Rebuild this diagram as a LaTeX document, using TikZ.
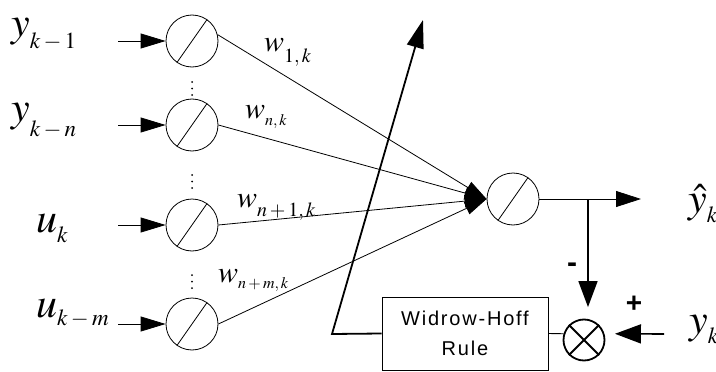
\documentclass[tikz,border=0pt]{standalone}
\usepackage{mathptmx}
\usepackage{fontspec}
\newfontfamily\sansf[LetterSpace=9]{Liberation Sans}
\newfontfamily\sansplain{Liberation Sans}
\usetikzlibrary{arrows.meta}
\newcommand\inlab[3]{{\fontsize{42}{42}\selectfont$#1$}\raisebox{-#3}{\fontsize{23}{23}\selectfont$#2$}}
\newcommand\wlab[3]{{\fontsize{30}{30}\selectfont$w$}\raisebox{-#2}{\fontsize{#3}{#3}\selectfont$#1$}}
\begin{document}
\begin{tikzpicture}[x=1pt,y=-1pt,
  neuron/.style={circle,draw,line width=0.8pt,minimum size=52pt,inner sep=0pt},
  slash/.style={line width=0.8pt},
  inarr/.style={line width=0.8pt,-{Triangle[length=25pt,width=15pt]}},
  warr/.style={line width=0.8pt,-{Triangle[length=22pt,width=13pt]}},
  outarr/.style={line width=0.8pt,-{Triangle[length=25pt,width=16pt]}},
  fbarr/.style={line width=1.6pt,-{Triangle[length=26pt,width=19pt]}},
  thickarr/.style={line width=1.8pt,-{Triangle[length=28pt,width=17pt]}},
  lab/.style={anchor=base west,inner sep=0pt},
  vdot/.style={circle,fill,inner sep=0pt,minimum size=2pt},
]
\clip (0,0) rectangle (716,372);
% input neurons
\node[neuron] (n1) at (192,41) {};
\node[neuron] (n2) at (192,125) {};
\node[neuron] (n3) at (192,225) {};
\node[neuron] (n4) at (192,324) {};
\foreach \n in {n1,n2,n3,n4} \draw[slash] (\n.235) -- (\n.55);
% vertical dots
\foreach \y [count=\i] in {82,175,275} {
  \node[vdot] (da\i) at (192,\y) {};
  \node[vdot] (db\i) at (192,\y+6.5) {};
  \node[vdot] (dc\i) at (192,\y+13) {};
}
% input labels
\node[lab] (ly1) at (11,37) {\inlab{y}{k-1}{12pt}};
\node[lab] (lyn) at (11,121) {\inlab{y}{k-n}{15pt}};
\node[lab] (lu) at (36,232) {\inlab{u}{k}{10pt}};
\node[lab] (lum) at (36,317) {\inlab{u}{k-m}{8pt}};
% input arrows
\coordinate (s1) at (118,41);
\coordinate (s2) at (118,125);
\coordinate (s3) at (118,225);
\coordinate (s4) at (118,324);
\draw[inarr] (s1) -- (n1);
\draw[inarr] (s2) -- (n2);
\draw[inarr] (s3) -- (n3);
\draw[inarr] (s4) -- (n4);
% output neuron
\node[neuron] (out) at (513,199) {};
\draw[slash] (out.235) -- (out.55);
% weighted connections
\draw[warr] (n1.14) -- (out.west);
\draw[warr] (n2.east) -- (out.west);
\draw[warr] (n3.east) -- (out.west);
\draw[warr] (n4.east) -- (out.west);
% weight labels
\node[lab] (w1) at (264,52) {\wlab{1,k}{10pt}{20}};
\node[lab] (w2) at (245,118) {\wlab{n,k}{7pt}{16}};
\node[lab] (w3) at (237,207) {\wlab{n+1,k}{9pt}{20}};
\node[lab] (w4) at (218,282) {\wlab{n+m,k}{6pt}{16}};
% output
\coordinate (yend) at (641,199);
\coordinate (br) at (588,199);
\draw[outarr] (out.east) -- (yend);
\node[lab] (lyhat) at (688,212) {\inlab{\hat{y}}{k}{10pt}};
% error summation
\node[circle,draw,line width=1.8pt,minimum size=41pt,inner sep=0pt] (cross) at (584,340) {};
\draw[line width=1.8pt] (cross.45) -- (cross.225) (cross.135) -- (cross.315);
\draw[fbarr,shorten >=11.5pt] (br) -- (br |- cross.north);
\node[font=\sansplain\bfseries\fontsize{30}{30}\selectfont,inner sep=0pt] (minus) at (572,268) {-};
\node[font=\sansplain\bfseries\fontsize{28}{28}\selectfont,inner sep=0pt] (plus) at (634,304) {+};
\coordinate (yks) at (664,334);
\draw[fbarr,shorten >=10.5pt] (yks) -- (cross.17);
\node[lab] (lyk) at (689,333) {\inlab{y}{k}{10pt}};
% Widrow-Hoff rule
\node[draw,line width=0.9pt,minimum width=166pt,minimum height=73pt,inner sep=0pt,align=center,
  font=\sansf\fontsize{20}{30}\selectfont] (wh) at (465,333.5) {Widrow-Hoff\\Rule};
\draw[line width=0.9pt] (wh.east) -- (cross.163);
\coordinate (wc) at (332,334);
\coordinate (wtip) at (423,20);
\draw[thickarr] (wh.west) -- (wc) -- (wtip);
\end{tikzpicture}
\end{document}
